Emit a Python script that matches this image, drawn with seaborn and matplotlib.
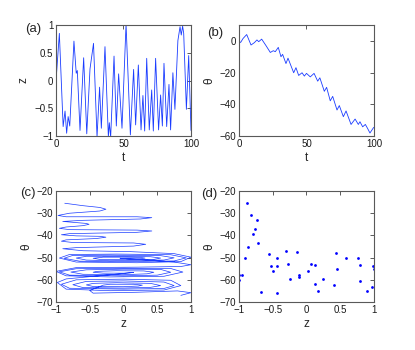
import numpy as np
import pandas as pd
import matplotlib
matplotlib.use("Agg")
import matplotlib.pyplot as plt
import seaborn as sns

# -----------------------------------------------------------------
# data
# -----------------------------------------------------------------

# (a) z(t)
a_t = [0, 2.5, 5.3, 6.7, 7.9, 9.0, 10.2, 13.3, 15.0, 15.8, 17.8, 20.5, 22.8, 25.2,
       27.8, 30.4, 32.3, 33.6, 36.3, 38.8, 39.5, 40.5, 43.0, 44.7, 46.4, 48.9, 51.9,
       55.1, 57.5, 59.0, 61.0, 63.0, 64.4, 65.7, 67.2, 69.1, 70.9, 72.1, 73.8, 76.0,
       77.5, 78.8, 80.0, 82.0, 83.7, 84.9, 86.6, 88.1, 90.3, 91.9, 92.8, 93.8, 94.6,
       96.6, 98.3, 100]
a_z = [-0.02, 0.85, -0.83, -0.55, -0.95, -0.65, -0.82, 0.71, 0.13, 0.18, -0.90, 0.41,
       -0.96, 0.21, 0.67, -1.02, -0.12, -0.86, 0.61, -1.02, -0.76, -1.02, 0.44, -0.82,
       0.12, -0.86, 1.02, -0.98, 0.20, -0.80, 0.28, -0.89, -0.27, -0.91, 0.40, -0.89,
       -0.17, -0.91, 0.40, -0.89, -0.26, -0.82, 0.31, -0.83, -0.07, -0.89, 0.14, -0.52,
       0.72, 0.97, 0.82, 0.98, 0.85, -0.52, 0.45, -0.90]

# (b) theta(t)
b_t = [0, 1.2, 3.0, 5.7, 8.9, 11.4, 13.3, 14.6, 16.8, 20.0, 23.2, 25.4, 26.9, 29.1,
       31.1, 32.3, 34.8, 36.3, 40.5, 42.2, 44.2, 46.7, 48.4, 50.0, 52.8, 55.6, 58.3,
       59.9, 63.2, 64.9, 67.6, 69.4, 72.6, 74.3, 77.3, 79.3, 83.0, 86.0, 88.4, 89.6,
       91.6, 93.6, 95.3, 97.0, 99.5, 100]
b_theta = [-0.3, -1.0, 1.5, 4.0, -2.6, -1.1, 0.6, -0.5, 1.1, -3.0, -7.3, -6.2, -6.8,
           -4.1, -10.0, -8.5, -14.3, -10.9, -20.1, -16.9, -21.8, -20.1, -22.2, -20.5,
           -22.7, -20.5, -25.4, -23.3, -31.8, -29.3, -37.8, -35.0, -43.6, -40.8, -47.8,
           -44.2, -52.7, -49.3, -52.7, -51.0, -54.2, -52.7, -55.3, -58.1, -54.9, -54.5]

# (c) theta vs z trajectory (traced vertices, loop by loop)
c_z = [-0.87, -0.60, -0.35, -0.26, -0.35, -0.80, -0.97, -0.85, 0.20, 0.42, 0.25, -0.60,
       -0.90, -0.70, -0.55, -0.51, -0.60, -0.85, -0.95, -0.80, 0.20, 0.42, 0.20, -0.80,
       -0.92, -0.70, -0.35, -0.26, -0.40, -0.85, -0.92, -0.75, 0.15, 0.33, 0.15, -0.70, -0.90,
       -0.60, 0.10, 0.75, 1.00, 0.85, 0.20, -0.70, -0.95,
       -0.80, -0.10, 0.70, 0.93, 0.75, 0.00, -0.65, -0.88,
       -0.75, -0.20, 0.55, 0.75, 0.60, -0.20, -0.55, -0.70,
       -0.55, 0.00, 0.40, 0.55, 0.45, 0.00, -0.35, -0.45,
       -0.30, 0.00, 0.25, 0.32, 0.25, 0.05, -0.05,
       0.30, 0.75, 1.00, 0.85,
       0.20, -0.70, -1.00, -0.85, -0.20, 0.60, 0.88,
       0.70, 0.00, -0.70, -0.95, -0.80, 0.00, 0.50, 0.70,
       0.55, 0.00, -0.55, -0.78, -0.60, 0.00, 0.35, 0.45,
       0.30, -0.10, -0.40, -0.45, -0.30, 0.00, 0.15,
       -0.50, -0.85, -0.98,
       -0.85, -0.20, 0.60, 0.85, 0.70, 0.00, -0.70, -0.92,
       -0.80, 0.00, 0.60, 0.75, 0.60, 0.00, -0.55, -0.75,
       -0.60, 0.00, 0.40, 0.55, 0.40, -0.10, -0.45, -0.55,
       -0.45, 0.00, 0.22, 0.28, 0.15, -0.20, -0.30,
       -0.50, -0.45, 0.20, 0.80, 1.00, 0.85]
c_theta = [-25.5, -26.6, -27.4, -28.2, -29.0, -30.0, -31.0, -31.6, -31.6, -32.0, -32.6, -33.2,
           -33.7, -34.2, -34.6, -35.0, -35.6, -36.2, -36.8, -37.4, -37.6, -38.0, -38.6, -39.2,
           -39.7, -40.2, -40.4, -40.8, -41.4, -42.0, -42.6, -43.2, -43.4, -44.0, -44.8, -45.5, -46.0,
           -46.9, -47.3, -48.2, -49.8, -51.8, -52.3, -52.0, -50.2,
           -48.6, -48.4, -48.7, -50.1, -51.5, -51.8, -51.6, -50.3,
           -49.0, -48.9, -49.1, -50.1, -51.1, -51.4, -51.1, -50.2,
           -49.4, -49.4, -49.6, -50.2, -50.8, -50.9, -50.8, -50.3,
           -49.8, -49.8, -49.9, -50.2, -50.5, -50.5, -50.3,
           -51.0, -52.0, -53.2, -54.0,
           -54.3, -54.5, -56.2, -58.2, -58.7, -58.4, -56.5,
           -54.9, -54.8, -55.0, -56.4, -57.9, -58.2, -57.9, -56.6,
           -55.3, -55.2, -55.5, -56.5, -57.5, -57.7, -57.3, -56.6,
           -56.0, -55.9, -56.2, -56.6, -57.0, -57.0, -56.7,
           -58.6, -59.6, -61.2,
           -64.2, -64.9, -64.6, -62.6, -60.2, -59.7, -60.0, -62.0,
           -63.8, -64.2, -63.9, -62.6, -61.0, -60.5, -60.7, -62.2,
           -63.5, -63.7, -63.4, -62.6, -61.6, -61.3, -61.6, -62.3,
           -63.0, -63.1, -62.8, -62.4, -62.0, -62.0, -62.4,
           -64.8, -66.0, -65.6, -65.0, -65.8, -67.0]

# (d) scatter theta vs z
d_z = [-0.876, -0.827, -0.733, -0.767, -0.787, -0.866, -0.713, -0.911, -1.0, -0.955,
       -1.0, -0.678, -0.55, -0.53, -0.49, -0.431, -0.436, -0.431, -0.302, -0.267,
       -0.243, -0.134, -0.104, -0.104, 0.025, 0.074, 0.119, 0.119, 0.163, 0.238, 0.411,
       0.431, 0.446, 0.589, 0.767, 0.787, 0.787, 0.901, 0.965, 0.98, 0.995]
d_theta = [-25.3, -30.8, -33.1, -37.0, -39.4, -45.2, -43.6, -50.0, -57.8, -57.8, -60.2,
           -65.6, -48.5, -53.9, -56.0, -50.0, -53.6, -66.1, -46.9, -53.0, -59.8, -47.3,
           -57.8, -58.9, -56.0, -53.0, -53.5, -62.0, -64.9, -59.5, -62.2, -47.8, -55.0,
           -50.3, -50.3, -53.3, -60.5, -65.2, -63.2, -53.6, -55.1]

# -----------------------------------------------------------------
# plotting
# -----------------------------------------------------------------

sns.set_style("white")
plt.rcParams['font.family'] = ['Liberation Sans', 'DejaVu Sans']
plt.rcParams['axes.unicode_minus'] = True

blue = '#1a3cff'
fig = plt.figure(figsize=(4.15, 3.5), dpi=100)

ax_a = fig.add_axes([0.1349, 0.6114, 0.3253, 0.3171])
ax_b = fig.add_axes([0.5759, 0.6114, 0.3253, 0.3171])
ax_c = fig.add_axes([0.1349, 0.1371, 0.3253, 0.3171])
ax_d = fig.add_axes([0.5759, 0.1371, 0.3253, 0.3171])

sns.lineplot(x=a_t, y=a_z, ax=ax_a, color=blue, lw=0.6, sort=False, estimator=None)
sns.lineplot(x=b_t, y=b_theta, ax=ax_b, color=blue, lw=0.6, sort=False, estimator=None)
sns.lineplot(x=c_z, y=c_theta, ax=ax_c, color=blue, lw=0.5, sort=False, estimator=None)
sns.scatterplot(x=d_z, y=d_theta, ax=ax_d, color='#0000ff', s=4, linewidth=0)

ax_a.set_xlim(0, 100); ax_a.set_ylim(-1, 1)
ax_a.set_xticks([0, 50, 100]); ax_a.set_yticks([-1, -0.5, 0, 0.5, 1])
ax_a.set_yticklabels(['\u22121', '\u22120.5', '0', '0.5', '1'])
ax_a.set_xlabel('t'); ax_a.set_ylabel('z')

ax_b.set_xlim(0, 100); ax_b.set_ylim(-60, 10)
ax_b.set_xticks([0, 50, 100]); ax_b.set_yticks([-60, -40, -20, 0])
ax_b.set_xlabel('t'); ax_b.set_ylabel('\u03b8')

for ax in (ax_c, ax_d):
    ax.set_xlim(-1, 1); ax.set_ylim(-70, -20)
    ax.set_xticks([-1, -0.5, 0, 0.5, 1])
    ax.set_xticklabels(['\u22121', '\u22120.5', '0', '0.5', '1'])
    ax.set_yticks([-70, -60, -50, -40, -30, -20])
    ax.set_xlabel('z'); ax.set_ylabel('\u03b8')

for ax in (ax_a, ax_b, ax_c, ax_d):
    ax.tick_params(direction='in', top=True, right=True, length=3, width=0.5,
                   labelsize=7, pad=2, colors='0.1')
    ax.xaxis.label.set_size(8.5)
    ax.yaxis.label.set_size(8.5)
    ax.xaxis.labelpad = 2
    ax.yaxis.labelpad = 3
    for sp in ax.spines.values():
        sp.set_color('0.35')
        sp.set_linewidth(0.8)

fig.text(41 / 415, 1 - 29 / 350, '(a)', fontsize=9.5, ha='right', va='center')
fig.text(223 / 415, 1 - 33 / 350, '(b)', fontsize=9.5, ha='right', va='center')
fig.text(36 / 415, 1 - 193 / 350, '(c)', fontsize=9.5, ha='right', va='center')
fig.text(217 / 415, 1 - 194 / 350, '(d)', fontsize=9.5, ha='right', va='center')

fig.savefig('out.png', dpi=100)
